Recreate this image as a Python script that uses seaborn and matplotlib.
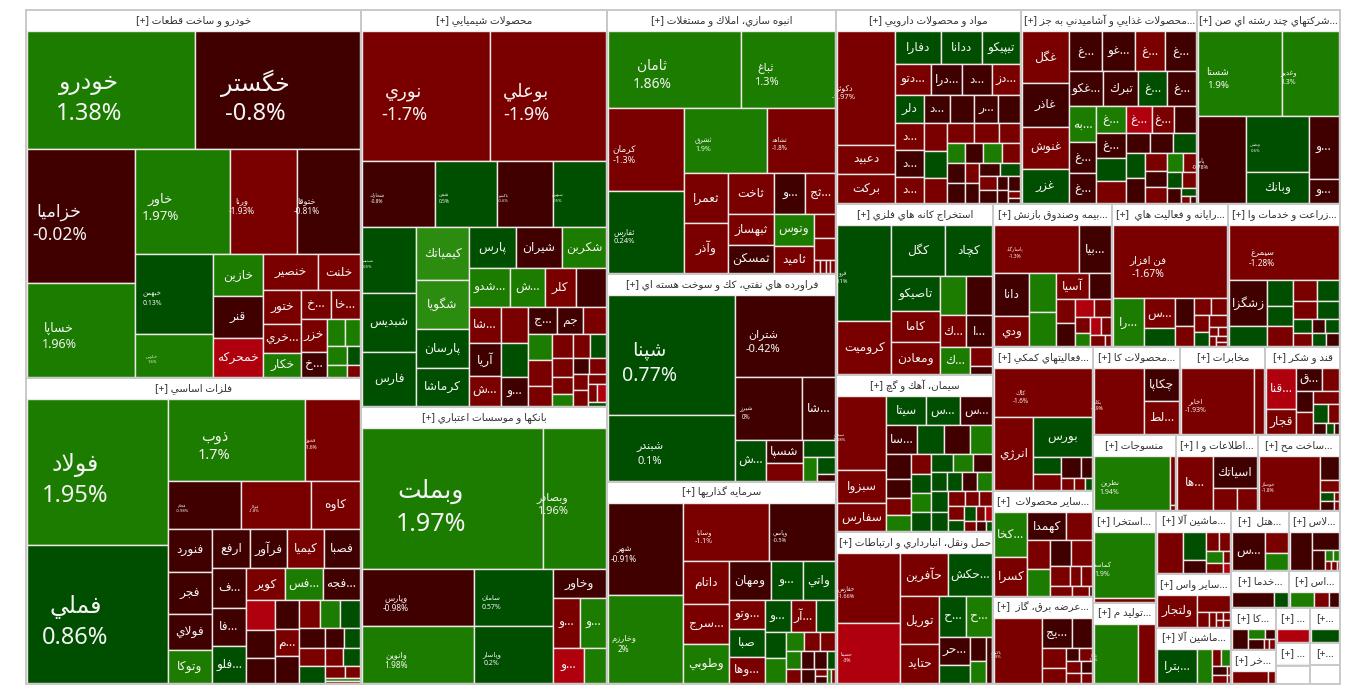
import matplotlib
matplotlib.use('Agg')
import matplotlib.pyplot as plt
from matplotlib.colors import BoundaryNorm, ListedColormap
from matplotlib.patches import Rectangle
import seaborn as sns

# direccion de cada tira: V columna, H fila
V, H = 'v', 'h'
# cambio tipico de cada color (las celdas sin etiqueta solo se leen por color)
B, R, D, G, F, L = -3.0, -1.5, -0.5, 0.5, 1.5, 2.5

sector_names = [
    'خودرو و ساخت قطعات', 'فلزات اساسي', 'محصولات شيميايي', 'بانكها و موسسات اعتباري',
    'انبوه سازي، املاك و مستغلات', 'فراورده هاي نفتي، كك و سوخت هسته اي', 'سرمايه گذاريها',
    'مواد و محصولات دارويي', 'محصولات غذايي و آشاميدني به جز...', 'شركتهاي چند رشته اي صن...',
    'استخراج كانه هاي فلزي', 'سيمان، آهك و گچ', 'حمل ونقل، انبارداري و ارتباطات',
    'بيمه وصندوق بازنش...', 'رايانه و فعاليت هاي ...', 'زراعت و خدمات وا...',
    'فعاليتهاي كمكي...', 'ساير محصولات ...', 'عرضه برق، گاز ...', 'محصولات كا...', 'مخابرات',
    'قند و شكر', 'منسوجات', 'اطلاعات و ا...', 'ساخت مح...', 'استخرا...', 'توليد م...',
    'ماشين آلا...', 'ساير واس...', 'ماشين آلا...', 'هتل ...', 'لاس...', 'خدما...', 'اس...',
    'كا...', 'خر...', '...', '[+...', '...', '[+...', None, None,
]
sector_sizes = [
    123280, 102510, 97662, 68142, 60456, 47632, 46258, 35890, 34144, 27742, 26847, 24649,
    23864, 17017, 16588, 16016, 14256, 10494, 8613, 7656, 7395, 6525, 6384, 6232, 6232,
    5859, 5103, 4725, 4125, 4200, 3422, 3068, 2146, 1924, 1848, 1496, 1190, 1054, 770, 680,
    630, 560,
]
sector_strips = [
    [V, 0, 1], [V, 2, 3], [V, 4, 5, 6], [H, 7, 8, 9], [V, 10, 11, 12], [H, 13, 14, 15],
    [V, 16, 17, 18], [H, 19, 20, 21], [H, 22, 23, 24], [V, 25, 26], [V, 27, 28, 29],
    [H, 30, 31], [H, 32, 33], [V, 34, 35], [H, 36, 37], [V, 38, 40], [V, 39, 41],
]

s01 = [
    [H, (19700, F, 'خودرو'), (19300, D, 'خگستر')],
    [V, (14470, D, 'خزاميا'), (10040, F, 'خساپا')],
    [H, (9800, F, 'خاور'), (7000, R, 'ورنا'), (6500, D, 'ختوقا')],
    [V, (6000, G, 'خبهمن'), (3240, F, 'خپارس')],
    [V, (2050, F, 'خازين'), (2000, D, 'قنر'), (1900, B, 'خمحركه')],
    [H, (1890, R, 'خنصير'), (1435, R, 'خلنت')],
    [V, (1220, R, 'ختور'), (1000, R, 'خري...'), (850, F, 'خكار')],
    [H, (784, R, 'خ...'), (784, R, 'خا...')],
    [V, (800, R, 'خزر'), (600, D, 'خ...')],
    [H, (430, F), (380, F)], [H, (324, F), (216, G)], [H, (198, F), (132, R)],
]
s02 = [
    [V, (20160, F, 'فولاد'), (19180, G, 'فملي')],
    [H, (10960, F, 'ذوب'), (4320, R, 'فخوز')],
    [H, (3384, D, 'فجام'), (3200, R, 'فولاژ'), (2256, R, 'كاوه')],
    [V, (1806, D, 'فنورد'), (1763, D, 'فجر'), (1462, D, 'فولاي'), (1376, F, 'وتوكا')],
    [H, (1406, D, 'ارفع'), (1368, D, 'فرآور'), (1368, R, 'كيميا'), (1330, D, 'فصبا')],
    [V, (1290, D, 'ف...'), (1220, D, 'فا...'), (1190, G, 'فلو...')],
    [H, (1147, R, 'كوير'), (1147, F, 'فس...'), (1116, D, 'فجه...')],
    [V, (783, B), (702, D), (648, D)],
    [V, (621, D), (598, R, 'م...'), (575, D)],
    [H, (540, R), (486, F), (486, G)],
    [H, (475, D), (323, D), (285, G)],
    [V, (425, R), (400, G)],
    [H, (289, R), (272, G)],
    [H, (208, R), (160, R)],
    [V, (72, F), (48, R)],
]
s03 = [
    [H, (16256, R, 'نوري'), (14848, R, 'بوعلي')],
    [H, (4680, D, 'شخارك'), (3900, G, 'شفن'), (3575, D, 'پاكشو'), (3380, G, 'شبهرن')],
    [V, (3445, G, 'شپديس'), (3021, G, 'شبديس'), (2809, G, 'فارس')],
    [V, (2652, L, 'كيمياتك'), (2397, L, 'شگويا'), (1938, G, 'پارسان'), (1887, G, 'كرماشا')],
    [H, (1794, G, 'پارس'), (1755, D, 'شيران'), (1677, F, 'شكربن')],
    [H, (1520, F, 'شدو...'), (1254, F, 'ش...'), (1140, R, 'كلر'), (1102, D)],
    [V, (1085, R, 'شا...'), (961, D, 'آريا'), (899, R, 'ش...')],
    [V, (910, R), (858, G), (728, D, 'و...')],
    [H, (702, D, 'ج...'), (650, D, 'جم'), (572, R)],
    [V, (575, F), (552, R), (437, R)],
    [H, (437, R), (368, R), (345, G)],
    [V, (342, R), (285, R), (209, F)],
    [H, (224, D), (224, R)],
    [V, (210, R), (196, R)],
    [H, (153, R)], [H, (136, R), (136, B)], [H, (51, G)],
]
s04 = [
    [H, (25200, F, 'وبملت'), (8680, F, 'وبصادر')],
    [V, (6160, D, 'وپارس'), (6160, F, 'وانوين')],
    [V, (4290, G, 'سامان'), (4290, G, 'وپاسار')],
    [H, (1404, D, 'وخاور')],
    [H, (1274, R, 'و...'), (1225, F, 'و...')],
    [H, (1020, B, 'و...'), (714, F)],
]
s05 = [
    [H, (10032, F, 'ثامان'), (7144, F, 'ثباغ')],
    [V, (6225, R, 'كرمان'), (6075, G, 'ثفارس')],
    [H, (5395, F, 'ثشرق'), (4355, R, 'ثشاهد')],
    [V, (2107, R, 'ثعمرا'), (2107, R, 'وآذر')],
    [H, (1840, R, 'ثاخت'), (1200, D, 'و...'), (1160, R, 'ثج...')],
    [V, (1334, R, 'ثبهساز'), (1242, D, 'ثمسكن')],
    [V, (1170, F, 'وتوس'), (1014, R, 'ثاميد')],
    [H, (460, R)], [H, (440, R)],
    [H, (55, R), (55, R), (44, R), (44, R)],
]
s06 = [
    [V, (14868, G, 'شپنا'), (8064, G, 'شبندر')],
    [H, (8000, D, 'شتران')],
    [H, (4026, D, 'شيرز'), (1952, D, 'شا...')],
    [V, (1200, G, 'ش...')],
    [V, (770, D, 'شسپا'), (595, R)],
    [H, (496, G)],
    [V, (299, F)],
    [V, (270, G), (108, D)],
]
s07 = [
    [V, (6660, D, 'شهر'), (6438, F, 'وخارزم')],
    [H, (4788, R, 'وسايا'), (3705, D, 'وپاسي')],
    [V, (1845, R, 'داتام'), (1755, R, 'سرج...'), (1665, F, 'وطوبي')],
    [H, (1520, D, 'ومهان'), (1178, G, 'و...'), (1178, G, 'واتي')],
    [V, (918, R, 'وتو...'), (918, G, 'صبا'), (850, R, 'وها...')],
    [H, (750, G, 'و...'), (720, R, 'آر...'), (540, G)],
    [V, (500, G), (460, F)],
    [H, (324, F), (270, R), (252, R)],
    [V, (238, F), (182, R)],
    [H, (192, D), (192, D), (112, G)],
    [V, (156, D)], [V, (60, R), (60, D)], [H, (40, F), (40, R)],
]
s08 = [
    [V, (6272, R, 'دكوثر'), (1568, R, 'دعبيد'), (1568, R, 'بركت')],
    [H, (1440, G, 'دفارا'), (1248, G, 'ددانا'), (1184, G, 'تيپيكو')],
    [H, (1015, R, 'دتو...'), (841, D, 'درا...'), (812, D, 'د...'), (783, R, 'دز...')],
    [H, (756, G, 'دلر'), (648, D, 'د...'), (621, D), (594, D, 'ر...'), (567, D)],
    [V, (728, R, 'د...'), (700, D, 'د...'), (700, R, 'د...')],
    [V, (567, R), (525, G), (504, R)],
    [H, (494, R), (456, R), (380, R)],
    [H, (306, F), (306, D), (306, F), (306, R)],
    [V, (323, D), (306, D)],
    [V, (247, R), (247, D)],
    [H, (228, D), (228, G)],
    [V, (208, R), (192, D)],
    [V, (130, D), (120, D)],
    [V, (143, D), (66, R), (44, D)],
]
s09 = [
    [V, (2346, R, 'غگل'), (1932, D, 'غاذر'), (1886, R, 'غنوش'), (1518, G, 'غزر')],
    [H, (1287, D, 'غ...'), (1248, D, 'غو...'), (1170, R, 'غ...'), (1170, D, 'غ...')],
    [H, (1156, D, 'غكو...'), (1156, D, 'تبرك'), (952, G, 'غ...'), (952, D, 'غ...')],
    [V, (918, F, 'به...'), (810, D, 'غ...'), (783, D, 'غ...')],
    [H, (725, F, 'غ...'), (625, B, 'غ...'), (525, R, 'غ...'), (525, D)],
    [V, (696, D, 'غ...'), (609, G), (609, R)],
    [H, (437, D), (418, D), (418, G)],
    [V, (432, G), (432, D)],
    [V, (357, R), (315, D), (315, R)],
    [H, (285, F), (228, R)],
    [H, (196, G), (182, R)],
    [V, (195, D)], [H, (96, G)], [H, (50, R), (30, D)],
]
s10 = [
    [H, (6723, F, 'شستا'), (4565, F, 'وغدير')],
    [V, (3956, D, 'پاسا')],
    [V, (3300, G, 'وپخش'), (1800, G, 'وبانك')],
    [V, (1769, D, 'و...'), (667, D, 'و...')],
]
s11 = [
    [V, (5035, G, 'فرو'), (2756, R, 'كروميت')],
    [H, (2650, G, 'كگل'), (2300, G, 'كچاد')],
    [V, (1598, G, 'تاصيكو'), (1410, R, 'كاما'), (1457, R, 'ومعادن')],
    [H, (950, F), (950, D)],
    [H, (775, R, 'ك...'), (775, D, 'ا...')],
    [V, (728, F, 'ك...')],
    [V, (374, R), (154, D)],
]
s12 = [
    [V, (3478, R, 'سيمان'), (1504, R, 'سبزوا'), (1269, R, 'سفارس')],
    [H, (1064, G, 'سيتا'), (896, G, 'س...'), (868, D, 'س...')],
    [H, (812, D, 'سا...'), (728, G), (700, D), (588, F)],
    [V, (552, D), (432, D), (360, R), (360, F)],
    [V, (342, R), (342, G), (328, F), (328, G)],
    [H, (320, G), (304, F), (288, D)],
    [H, (270, G), (252, G), (252, D), (252, F)],
    [V, (285, G), (270, G)],
    [H, (224, R), (180, R), (168, R)],
    [V, (176, R), (150, G)],
    [H, (140, G), (98, R), (84, B)],
    [H, (100, R), (80, D), (50, G)],
]
s13 = [
    [V, (4148, R, 'حفارس'), (3538, B, 'حسينا')],
    [H, (1927, R, 'حآفرين'), (1763, G, 'حكش...')],
    [V, (1748, R, 'توريل'), (1406, R, 'حتايد')],
    [H, (1014, G, 'ح...'), (975, F, 'ح...')],
    [V, (780, D, 'حر...'), (510, G)],
    [V, (336, D), (294, F)],
    [H, (198, D), (22, R)],
]
s14 = [
    [H, (3901, R, 'پاسارگاد'), (1457, D, 'بيا...')],
    [V, (1428, D, 'دانا'), (986, R, 'ودي')],
    [V, (950, F), (825, F)],
    [H, (800, R, 'آسيا'), (525, D)],
    [V, (414, R), (396, D)],
    [H, (306, B), (272, R)],
    [V, (210, R), (168, F)],
    [H, (170, B), (153, R)],
    [H, (140, R), (50, R)],
]
s15 = [
    [H, (8249, R, 'فن افزار')],
    [V, (1410, F, 'را...')],
    [V, (868, R, 'س...'), (527, G)],
    [V, (468, D), (342, R)],
    [H, (255, R), (238, R)],
    [V, (224, R), (190, G)],
    [H, (180, R)], [H, (60, R), (60, R)],
    [V, (55, R)], [H, (45, R)], [H, (35, R)],
]
s16 = [
    [H, (5832, R, 'سيمرغ')],
    [V, (1665, D, 'زشگزا'), (703, G)],
    [V, (600, G), (475, G), (475, R)],
    [H, (440, R), (420, G)],
    [H, (374, R), (357, G)],
    [H, (221, G), (156, D), (156, G)],
    [H, (204, R), (156, G), (132, D)],
]
s17 = [
    [H, (4656, R, 'كاك')],
    [V, (2738, R, 'انرژي')],
    [H, (2301, G, 'بورس')],
    [V, (459, G), (405, R)],
    [H, (380, D), (200, D)],
    [H, (132, R), (110, R), (66, G)],
]
s18 = [
    [V, (1376, F, 'كخا...'), (1184, R, 'كسرا')],
    [H, (988, D, 'كهمدا'), (624, R)],
    [V, (594, R), (550, F)],
    [H, (500, D), (475, R)],
    [H, (342, R), (180, R), (162, R)],
    [H, (190, R), (140, R), (16, D)],
]
s19 = [
    [V, (2944, R, 'پالايش')],
    [H, (840, D, 'يج...'), (532, D)],
    [V, (432, R), (336, R)],
    [H, (144, D), (132, R)],
    [H, (140, R), (90, D)],
    [H, (126, R), (81, R)],
]
s20 = [[V, (3136, R, 'بكاب')], [V, (1054, D, 'چكاپا'), (1054, R, 'لط...')]]
s21 = [[V, (4480, R, 'اخابر')], [V, (576, R)]]
s22 = [
    [V, (1131, B, 'قنا...'), (696, R, 'قجار')],
    [H, (525, D, 'ق...'), (336, R)],
    [V, (320, D), (320, R)],
    [H, (300, R)],
    [H, (238, G), (170, R)],
    [H, (110, D), (70, G), (40, D)],
]
s23 = [[V, (3900, F, 'نطرين')], [V, (245, R), (15, R)]]
s24 = [[V, (1768, R, 'ها...')], [H, (1333, D, 'اسياتك')], [H, (460, R), (380, R)]]
s25 = [
    [V, (3016, R, 'خوساز')],
    [H, (391, D)], [H, (170, R)], [H, (96, G), (32, R)], [H, (84, D), (28, R)],
]
s26 = [[H, (3835, F, 'كماسه')], [H, (236, R)]]
s27 = [[V, (2394, F, 'تايرا')], [V, (912, R)]]
s28 = [
    [V, (1000, R)],
    [V, (567, G), (252, D)],
    [H, (216, R), (198, R)],
    [H, (165, F), (70, R)],
    [H, (135, R), (50, B)],
]
s29 = [
    [V, (1280, R, 'ولتجار')],
    [H, (558, R)],
    [V, (156, R)], [V, (78, R)], [V, (40, R), (40, R)], [V, (40, R), (40, R)],
]
s30 = [
    [V, (1216, G, 'بترا...')],
    [V, (416, F)],
    [H, (120, R), (120, F)],
    [H, (105, D), (18, R)],
    [H, (90, R), (15, R)],
]
s31 = [[V, (1147, D, 'س...')], [H, (440, R)], [H, (330, F)]]
s32 = [[V, (777, D)], [H, (442, D)], [V, (216, D)], [H, (70, F), (50, F)], [H, (42, R), (30, R), (10, R)]]
s33 = [[V, (574, D)], [V, (168, G)]]
s34 = [[V, (322, F)], [V, (196, R)], [V, (126, D)]]
s35 = [[V, (294, D)], [H, (144, F), (81, D)], [V, (144, D)], [V, (40, R)], [V, (40, R)]]
s36 = [[V, (350, R)], [V, (50, R)]]
s37 = [[V, (400, B)]]
s38 = [[V, (400, G)]]
s39 = [[V, (100, R)]]
sector_tiles = [
    s01, s02, s03, s04, s05, s06, s07, s08, s09, s10, s11, s12, s13, s14, s15, s16, s17, s18,
    s19, s20, s21, s22, s23, s24, s25, s26, s27, s28, s29, s30, s31, s32, s33, s34, s35, s36,
    s37, s38, s39, [], [], [],
]

pct_text = {
    'خودرو': '1.38%', 'خگستر': '-0.8%', 'خزاميا': '-0.02%', 'خساپا': '1.96%', 'خاور': '1.97%',
    'ورنا': '-1.93%', 'ختوقا': '-0.81%', 'خبهمن': '0.13%', 'خپارس': '1.6%',
    'فولاد': '1.95%', 'فملي': '0.86%', 'ذوب': '1.7%', 'فخوز': '-1.6%', 'فجام': '-0.98%', 'فولاژ': '-1.8%',
    'نوري': '-1.7%', 'بوعلي': '-1.9%', 'شخارك': '-0.8%', 'شفن': '0.5%', 'پاكشو': '-0.6%',
    'شبهرن': '0.5%', 'شپديس': '0.5%', 'وبملت': '1.97%', 'وبصادر': '1.96%', 'وپارس': '-0.98%',
    'وانوين': '1.98%', 'سامان': '0.57%', 'وپاسار': '0.2%', 'ثامان': '1.86%', 'ثباغ': '1.3%',
    'كرمان': '-1.3%', 'ثفارس': '0.24%', 'ثشرق': '1.9%', 'ثشاهد': '-1.8%', 'شپنا': '0.77%',
    'شبندر': '0.1%', 'شتران': '-0.42%', 'شيرز': '0%', 'شهر': '-0.91%', 'وخارزم': '2%',
    'وسايا': '-1.1%', 'وپاسي': '-0.5%', 'دكوثر': '-1.97%', 'شستا': '1.9%', 'وغدير': '1.3%',
    'پاسا': '-0.78%', 'وپخش': '0.6%', 'فرو': '0.1%', 'سيمان': '-1.08%', 'حفارس': '-1.66%',
    'حسينا': '-3%', 'پاسارگاد': '-1.3%', 'فن افزار': '-1.67%', 'سيمرغ': '-1.28%', 'كاك': '-1.6%',
    'پالايش': '-1.9%', 'بكاب': '-1.9%', 'اخابر': '-1.93%', 'نطرين': '1.94%', 'خوساز': '-1.8%',
    'كماسه': '1.9%', 'تايرا': '1.7%',
}
# tamano (pt) de las etiquetas con porcentaje
label_pt = {
    'خودرو': 17, 'خگستر': 17, 'خزاميا': 12.5, 'خساپا': 9, 'خاور': 9.5, 'ورنا': 6, 'ختوقا': 6,
    'خبهمن': 5, 'خپارس': 3, 'فولاد': 17, 'فملي': 17, 'ذوب': 10.5, 'فخوز': 3.5, 'فجام': 3,
    'فولاژ': 3, 'نوري': 13, 'بوعلي': 13, 'شخارك': 3.5, 'شفن': 3.5, 'پاكشو': 3, 'شبهرن': 3,
    'شپديس': 3, 'وبملت': 18, 'وبصادر': 8, 'وپارس': 6, 'وانوين': 6, 'سامان': 5, 'وپاسار': 5,
    'ثامان': 10, 'ثباغ': 8, 'كرمان': 6.5, 'ثفارس': 5.5, 'ثشرق': 5, 'ثشاهد': 4.5, 'شپنا': 14,
    'شبندر': 8, 'شتران': 8, 'شيرز': 4.5, 'شهر': 6, 'وخارزم': 6, 'وسايا': 5, 'وپاسي': 4,
    'دكوثر': 5.5, 'شستا': 7, 'وغدير': 5, 'پاسا': 4, 'وپخش': 3, 'فرو': 4, 'سيمان': 3,
    'حفارس': 4, 'حسينا': 3.5, 'پاسارگاد': 3.5, 'فن افزار': 7.5, 'سيمرغ': 6, 'كاك': 4.5,
    'پالايش': 3, 'بكاب': 3.5, 'اخابر': 5, 'نطرين': 5, 'خوساز': 3.5, 'كماسه': 5, 'تايرا': 3,
}

# formas de presentacion arabes: matplotlib no une letras ni invierte el texto
FOUR = {'ب': 0xFE8F, 'پ': 0xFB56, 'ت': 0xFE95, 'ث': 0xFE99, 'ج': 0xFE9D, 'چ': 0xFB7A, 'ح': 0xFEA1,
        'خ': 0xFEA5, 'س': 0xFEB1, 'ش': 0xFEB5, 'ص': 0xFEB9, 'ض': 0xFEBD, 'ط': 0xFEC1, 'ظ': 0xFEC5,
        'ع': 0xFEC9, 'غ': 0xFECD, 'ف': 0xFED1, 'ق': 0xFED5, 'ك': 0xFED9, 'گ': 0xFB92, 'ل': 0xFEDD,
        'م': 0xFEE1, 'ن': 0xFEE5, 'ه': 0xFEE9, 'ي': 0xFEF1, 'ئ': 0xFE89}
TWO = {'ا': 0xFE8D, 'آ': 0xFE81, 'د': 0xFEA9, 'ذ': 0xFEAB, 'ر': 0xFEAD, 'ز': 0xFEAF, 'ژ': 0xFB8A,
       'و': 0xFEED}
LAM_ALEF = {'ا': 0xFEFB, 'آ': 0xFEF5}


def shape(word):
    out = []
    i = 0
    prev_joins = False
    while i < len(word):
        c = word[i]
        nxt = word[i + 1] if i + 1 < len(word) else ''
        if c == 'ل' and nxt in LAM_ALEF and nxt:
            out.append(chr(LAM_ALEF[nxt] + (1 if prev_joins else 0)))
            prev_joins = False
            i += 2
            continue
        if c in FOUR:
            next_ok = nxt in FOUR or nxt in TWO
            if next_ok and nxt:
                out.append(chr(FOUR[c] + (3 if prev_joins else 2)))
            else:
                out.append(chr(FOUR[c] + (1 if prev_joins else 0)))
            prev_joins = bool(next_ok and nxt)
        elif c in TWO:
            out.append(chr(TWO[c] + (1 if prev_joins else 0)))
            prev_joins = False
        else:
            out.append(c)
            prev_joins = False
        i += 1
    return ''.join(reversed(out))


def fa(text):
    # los puntos suspensivos quedan a la derecha, como en el original
    if text.endswith('...'):
        return shape(text[:-3]) + '...'
    return shape(text)


def layout(strips, x0, y0, x1, y1, size):
    # reparte el rectangulo tira por tira segun los valores
    left = sum(size(t) for s in strips for t in s[1:])
    placed = []
    for s in strips:
        items = s[1:]
        total = sum(size(t) for t in items)
        if s[0] == V:
            w = (x1 - x0) * total / left
            y = y0
            for t in items:
                h = (y1 - y0) * size(t) / total
                placed.append((t, x0, y, w, h))
                y += h
            x0 += w
        else:
            h = (y1 - y0) * total / left
            x = x0
            for t in items:
                w = (x1 - x0) * size(t) / total
                placed.append((t, x, y0, w, h))
                x += w
            y0 += h
        left -= total
    return placed


def tile_size(t):
    # el valor se leyo sin el filete entre celdas
    return (t[0] ** 0.5 + 1.3) ** 2


sns.set_theme(style='white')
plt.rcParams['font.family'] = ['Noto Sans', 'DejaVu Sans']

palette = sns.color_palette(['#b0000e', '#7a0000', '#400000', '#004f00', '#1b7c00', '#2c8c10'])
cmap = ListedColormap(palette)
norm = BoundaryNorm([-10, -2.5, -1, 0, 1, 2.2, 10], 6)

fig, ax = plt.subplots(figsize=(13.66, 7), dpi=100)
ax.set_position([0, 0, 1, 1])
ax.set_xlim(0, 1366)
ax.set_ylim(700, 0)
ax.axis('off')
renderer = fig.canvas.get_renderer()

BORDER = '#c9c9c9'
TILE_EDGE = '#f0e8e8'
TEXT = '#f4f4f4'
PX = 100 / 72

for idx, sx, sy, sw, sh in layout(sector_strips, 26, 10, 1340, 684, lambda i: sector_sizes[i]):
    title = sector_names[idx]
    ax.add_patch(Rectangle((sx, sy), sw, sh, fc='white', ec='none', zorder=1))
    tiles = sector_tiles[idx]
    if tiles:
        for t, x, y, w, h in layout(tiles, sx + 1, sy + 21, sx + sw - 1, sy + sh - 1, tile_size):
            ax.add_patch(Rectangle((x, y), w, h, fc=cmap(norm(t[1])), ec=TILE_EDGE, lw=1.0, zorder=2))
            name = t[2] if len(t) > 2 else ''
            if not name:
                continue
            cx, cy = x + w / 2, y + h / 2
            if name in pct_text:
                pt = label_pt[name]
                off = 0.65 * pt * PX
                cx -= 22
                cy += 3 + 0.25 * pt * PX
                ax.text(cx, cy - off, fa(name), fontsize=pt, color=TEXT, ha='center', va='center', zorder=3)
                ax.text(cx, cy + off, pct_text[name], fontsize=pt, color=TEXT, ha='center', va='center', zorder=3)
            else:
                txt = ax.text(cx, cy, fa(name), fontsize=8.8, color=TEXT, ha='center', va='center', zorder=3)
                width = txt.get_window_extent(renderer).width
                if width > w - 2:
                    txt.set_fontsize(8.8 * (w - 2) / width)
    ax.add_patch(Rectangle((sx, sy), sw, sh, fc='none', ec=BORDER, lw=1.4, zorder=4))
    if title is not None:
        label = title if title.startswith('[+') else '[+] ' + fa(title)
        ax.text(sx + sw / 2, sy + 10.5, label, fontsize=7.5, color='#333333', ha='center', va='center',
                zorder=5, clip_on=True)

fig.savefig('out.png', dpi=100)
